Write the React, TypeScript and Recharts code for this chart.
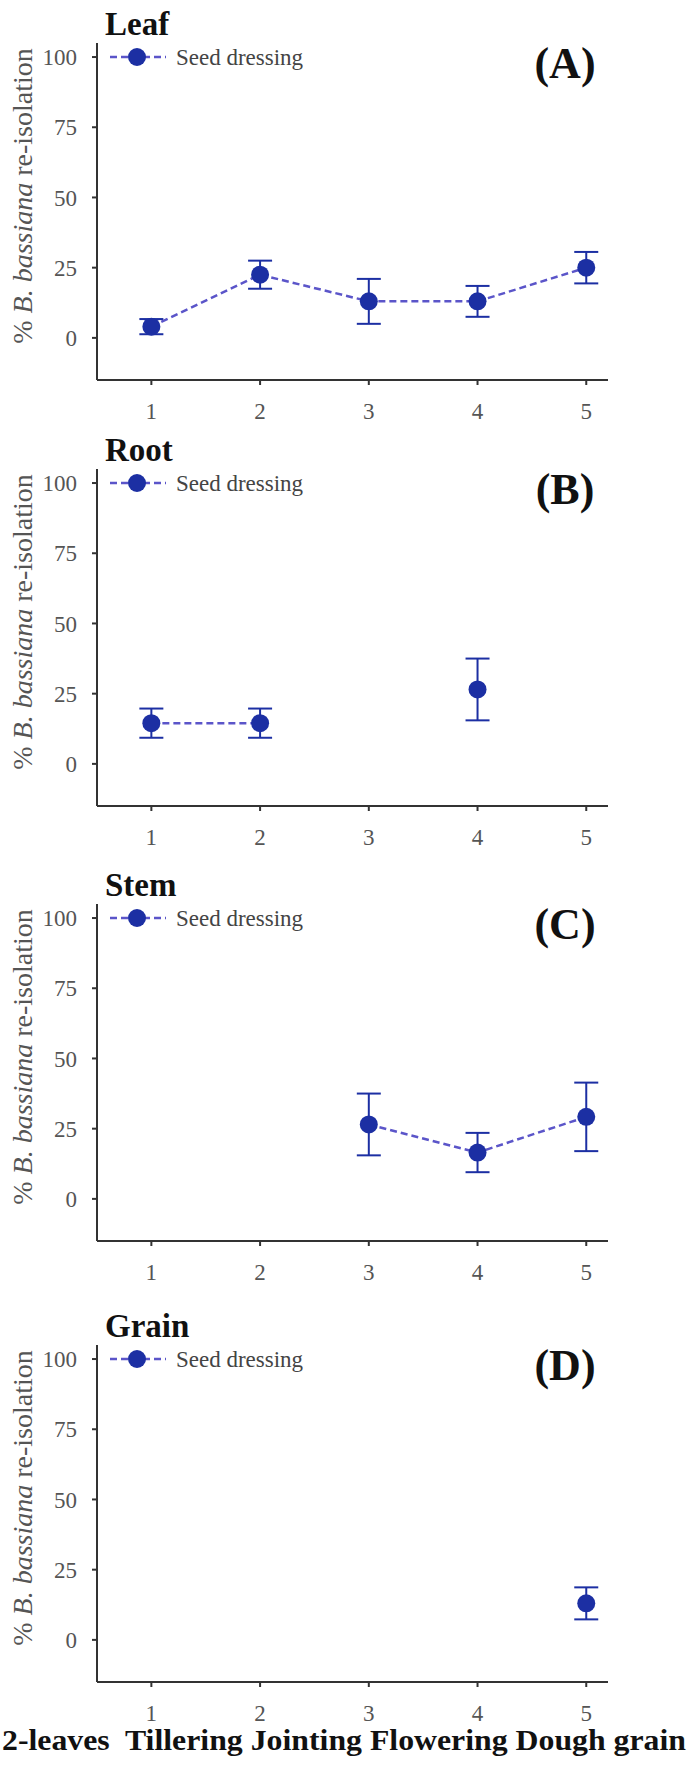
import React from 'react';
import { LineChart, Line, XAxis, YAxis, ErrorBar } from 'recharts';

const stages = [1, 2, 3, 4, 5];
const stageNames = ['2-leaves ', 'Tillering', 'Jointing', 'Flowering', 'Dough grain'];
const yTicks = [0, 25, 50, 75, 100];

const leafMean = [4, 22.5, 13, 13, 25];
const leafErr = [2.7, 5, 8, 5.5, 5.6];
const rootMean = [14.5, 14.5, null, 26.5, null];
const rootErr = [5.2, 5.2, null, 11, null];
const stemMean = [null, null, 26.5, 16.5, 29.2];
const stemErr = [null, null, 11, 7, 12.2];
const grainMean = [null, null, null, null, 13];
const grainErr = [null, null, null, null, 5.7];

const panels = [
  { title: 'Leaf', tag: '(A)', mean: leafMean, err: leafErr, top: 0 },
  { title: 'Root', tag: '(B)', mean: rootMean, err: rootErr, top: 426 },
  { title: 'Stem', tag: '(C)', mean: stemMean, err: stemErr, top: 861 },
  { title: 'Grain', tag: '(D)', mean: grainMean, err: grainErr, top: 1302 },
];

const serif = '"Liberation Serif", "Times New Roman", serif';
const markColor = '#1c2fa3';
const lineColor = '#5b55c9';
const axisColor = '#333';
const tickStyle = { fill: '#555', fontSize: 23, fontFamily: serif };

const W = 688;
const H = 440;
const margin = { top: 43, right: 80, left: 0, bottom: 15 };

function YLabel(props: any) {
  const vb = props.viewBox || { x: 0, y: 43, height: 337 };
  const x = 22;
  const y = vb.y + 153;
  return (
    <text
      x={x}
      y={y}
      transform={`rotate(-90, ${x}, ${y})`}
      textAnchor="middle"
      dominantBaseline="central"
      fill="#555"
      fontSize={28}
      fontFamily={serif}
    >
      <tspan>% </tspan>
      <tspan fontStyle="italic">B. bassiana</tspan>
      <tspan> re-isolation</tspan>
    </text>
  );
}

function Panel({ p }: { p: (typeof panels)[number] }) {
  const rows = stages.map((s, i) => ({ stage: s, mean: p.mean[i], err: p.err[i] }));
  return (
    <div style={{ position: 'absolute', top: p.top, left: 0, width: W, height: H }}>
      <LineChart width={W} height={H} data={rows} margin={margin}>
        <XAxis
          dataKey="stage"
          type="number"
          domain={[0.5, 5.2]}
          ticks={stages}
          allowDataOverflow
          height={45}
          stroke={axisColor}
          strokeWidth={2}
          tickSize={5}
          tickMargin={18}
          tick={tickStyle}
        />
        <YAxis
          type="number"
          domain={[-15, 105]}
          ticks={yTicks}
          allowDataOverflow
          width={97}
          stroke={axisColor}
          strokeWidth={2}
          tickSize={5}
          tickMargin={15}
          tick={tickStyle}
          label={{ content: YLabel }}
        />
        <Line
          dataKey="mean"
          stroke={lineColor}
          strokeWidth={2.5}
          strokeDasharray="7 4"
          dot={{ r: 9, fill: markColor, stroke: markColor, strokeWidth: 0 }}
          activeDot={false}
          isAnimationActive={false}
        >
          <ErrorBar dataKey="err" width={12} stroke={markColor} strokeWidth={2} direction="y" />
        </Line>
      </LineChart>
      <svg width={W} height={H} style={{ position: 'absolute', top: 0, left: 0, pointerEvents: 'none' }}>
        <text x={105} y={35} fontSize={33} fontWeight="bold" fontFamily={serif} fill="#111">
          {p.title}
        </text>
        <text x={565} y={78} fontSize={44} fontWeight="bold" fontFamily={serif} fill="#111" textAnchor="middle">
          {p.tag}
        </text>
        <line x1={110} y1={57} x2={166} y2={57} stroke={lineColor} strokeWidth={2.5} strokeDasharray="7 4" />
        <circle cx={137} cy={57} r={9} fill={markColor} />
        <text x={176} y={65} fontSize={23} fontFamily={serif} fill="#444">
          Seed dressing
        </text>
      </svg>
    </div>
  );
}

export default function App() {
  return (
    <div style={{ position: 'absolute', top: 0, left: 0, width: W, height: 1766, background: '#fff' }}>
      {panels.map((p) => (
        <Panel key={p.tag} p={p} />
      ))}
      <svg width={W} height={66} style={{ position: 'absolute', top: 1700, left: 0 }}>
        <text
          x={2}
          y={50}
          fontSize={29}
          fontWeight="bold"
          fontFamily={serif}
          fill="#111"
          textLength={684}
          lengthAdjust="spacingAndGlyphs"
          style={{ whiteSpace: 'pre' }}
        >
          {stageNames.join(' ')}
        </text>
      </svg>
    </div>
  );
}
